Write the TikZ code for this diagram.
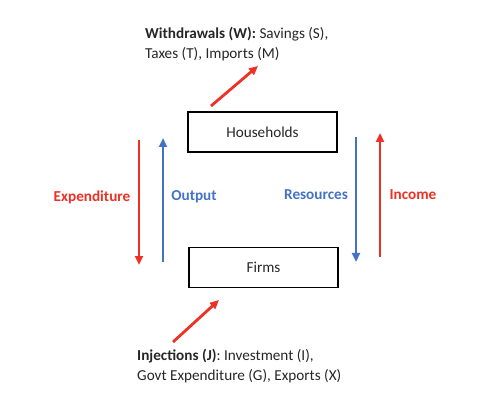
\documentclass[tikz,border=0pt]{standalone}
\usepackage{fontspec}
\setmainfont{Carlito}
\usetikzlibrary{arrows.meta}
\definecolor{cred}{HTML}{EE3124}
\definecolor{cblue}{HTML}{4472C4}
\definecolor{ctext}{HTML}{262626}
\begin{document}
\begin{tikzpicture}[x=1pt,y=-1pt,
  box/.style={draw=black,line width=1.3pt,minimum width=149pt,minimum height=40pt,inner sep=0pt,font=\fontsize{15.2}{18}\selectfont,text=ctext},
  flow/.style={line width=2.8pt,-{Triangle[length=9pt,width=8pt]}},
  lbl/.style={font=\fontsize{15.2}{18}\selectfont\bfseries,inner sep=0pt},
  info/.style={font=\fontsize{15.2}{20}\selectfont,text=ctext,align=left,inner sep=0pt,anchor=north west}]
\useasboundingbox (0,0) rectangle (498,406);
\node[box] (hh) at (262.5,132) {Households};
\node[box] (fi) at (263.5,267.5) {Firms};
% vertical flows
\coordinate (e1) at (139,140); \coordinate (e2) at (139,265);
\coordinate (o1) at (163,262); \coordinate (o2) at (163,138);
\coordinate (r1) at (356,137); \coordinate (r2) at (356,262);
\coordinate (i1) at (380,257); \coordinate (i2) at (380,133);
\draw[flow,cred] (e1) -- (e2);
\draw[flow,cblue] (o1) -- (o2);
\draw[flow,cblue] (r1) -- (r2);
\draw[flow,cred] (i1) -- (i2);
\node[lbl,text=cred] (le) at (92,197) {Expenditure};
\node[lbl,text=cblue] (lo) at (194,197) {Output};
\node[lbl,text=cblue] (lr) at (316,195) {Resources};
\node[lbl,text=cred] (li) at (413,195) {Income};
% withdrawals
\node[info] (w) at (145,27) {\textbf{Withdrawals (W):} Savings (S),\\Taxes (T), Imports (M)};
\coordinate (w1) at (211,106);
\coordinate (w2) at (258,66);
\draw[flow,cred] (w1) -- (w2);
% injections
\node[info] (j) at (137,349) {\textbf{Injections (J)}: Investment (I),\\Govt Expenditure (G), Exports (X)};
\coordinate (j1) at (173,342);
\coordinate (j2) at (219,300);
\draw[flow,cred] (j1) -- (j2);
\end{tikzpicture}
\end{document}
